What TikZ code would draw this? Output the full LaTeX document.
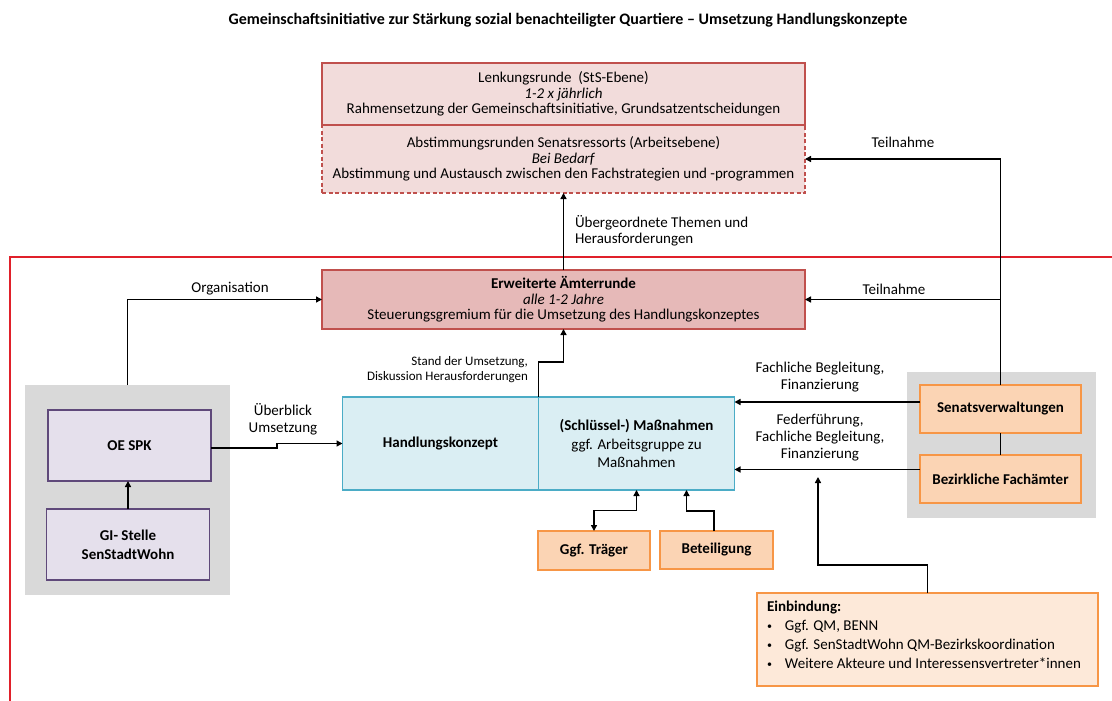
\documentclass[tikz,border=0pt]{standalone}
\usepackage{fontspec}
\setmainfont{Carlito}
\usetikzlibrary{arrows.meta}
\definecolor{lenkf}{HTML}{F2DCDB}
\definecolor{lenkd}{HTML}{C0504D}
\definecolor{aemf}{HTML}{E6B9B8}
\definecolor{bluef}{HTML}{DAEEF3}
\definecolor{blued}{HTML}{4BACC6}
\definecolor{lavf}{HTML}{E5E0EC}
\definecolor{lavd}{HTML}{5F497A}
\definecolor{orf}{HTML}{FBD4B4}
\definecolor{orlf}{HTML}{FDE9D9}
\definecolor{ord}{HTML}{F79646}
\definecolor{greyf}{HTML}{D9D9D9}
\definecolor{framered}{HTML}{E0202A}
\newcommand{\fsmain}{\fontsize{15}{15.5}\selectfont}
\newcommand{\fslbl}{\fontsize{15}{17}\selectfont}
\newcommand{\fssmall}{\fontsize{13}{15}\selectfont}
\newcommand{\smbul}{{\fontsize{10}{10}\selectfont\raisebox{1pt}{\textbullet}}}
\begin{document}
\begin{tikzpicture}[x=1pt,y=-1pt,
  every node/.style={inner sep=0pt, outer sep=0pt},
  box/.style={draw, line width=1.3pt, align=center, font=\fsmain},
  lenkbox/.style={box, draw=lenkd, fill=lenkf, minimum width=483pt},
  aembox/.style={box, draw=lenkd, fill=aemf, minimum width=483pt},
  bluebox/.style={box, draw=blued, fill=bluef, minimum width=196pt, minimum height=93pt},
  lavbox/.style={box, draw=lavd, fill=lavf, minimum width=163pt, minimum height=71pt},
  orbox/.style={box, draw=ord, fill=orf},
  greybox/.style={fill=greyf},
  arr/.style={line width=1.4pt, -{Triangle[length=6pt,width=6pt]}},
  darr/.style={line width=1.4pt, {Triangle[length=6pt,width=6pt]}-{Triangle[length=6pt,width=6pt]}},
  conn/.style={line width=1.4pt},
  lbl/.style={font=\fslbl, align=center},
]
\useasboundingbox (0,0) rectangle (1112,701);
\fill[white] (0,0) rectangle (1112,701);

% title
\node[font=\fontsize{16}{18}\selectfont\bfseries] (title) at (568,20)
  {Gemeinschaftsinitiative zur Stärkung sozial benachteiligter Quartiere – Umsetzung Handlungskonzepte};

% top boxes
\node[lenkbox, minimum height=68pt, dash pattern=on 4pt off 2.5pt] (abst) at (563.5,159)
  {Abstimmungsrunden Senatsressorts (Arbeitsebene)\\\textit{Bei Bedarf}\\Abstimmung und Austausch zwischen den Fachstrategien und -programmen};
\node[lenkbox, minimum height=62pt] (lenk) at (563.5,94)
  {Lenkungsrunde\ \ (StS-Ebene)\\\textit{1-2 x jährlich}\\Rahmensetzung der Gemeinschaftsinitiative, Grundsatzentscheidungen};

% red frame
\draw[framered, line width=1.2pt] (10,701) -- (10,257) -- (1112,257);

% grey backgrounds
\node[greybox, minimum width=205pt, minimum height=210pt] (greyl) at (127.5,490) {};
\node[greybox, minimum width=189pt, minimum height=146pt] (greyr) at (1001.5,445) {};

% main boxes
\node[aembox, minimum height=59pt] (aemter) at (563.5,299.5)
  {\textbf{Erweiterte Ämterrunde}\\\textit{alle 1-2 Jahre}\\Steuerungsgremium für die Umsetzung des Handlungskonzeptes};
\node[lavbox] (oespk) at (129.5,445.5) {\textbf{OE SPK}};
\node[lavbox, font=\fontsize{15}{19}\selectfont] (gi) at (128,544.5) {\textbf{GI- Stelle}\\\textbf{SenStadtWohn}};
\node[bluebox] (hk) at (440.5,443.5) {\textbf{Handlungskonzept}};
\node[bluebox, font=\fontsize{15}{18.5}\selectfont] (mass) at (636.5,443.5)
  {\textbf{(Schlüssel-) Maßnahmen}\\ggf. Arbeitsgruppe zu\\Maßnahmen};
\node[orbox, minimum width=161pt, minimum height=48pt] (senat) at (1000.5,409) {\textbf{Senatsverwaltungen}};
\node[orbox, minimum width=161pt, minimum height=48pt] (bez) at (1000.5,479) {\textbf{Bezirkliche Fachämter}};
\node[orbox, minimum width=112pt, minimum height=39pt] (traeger) at (594,550.5) {\textbf{Ggf. Träger}};
\node[orbox, minimum width=113pt, minimum height=38pt] (bet) at (716.5,550) {\textbf{Beteiligung}};
\node[box, draw=ord, fill=orlf, minimum width=341pt, minimum height=93pt] (einb) at (927.5,639.5) {};
\node[anchor=north west, align=left, font=\fontsize{15}{19}\selectfont] (einbtext) at (767,601)
  {\textbf{Einbindung:}\\
   \smbul\hspace{13pt}Ggf. QM, BENN\\
   \smbul\hspace{13pt}Ggf. SenStadtWohn QM-Bezirkskoordination\\
   \smbul\hspace{13pt}Weitere Akteure und Interessensvertreter*innen};

% connectors
\draw[arr] (aemter.north) -- (abst.south);
\draw[arr] (senat.north) -- (senat.north |- abst.east) -- (abst.east);
\draw[arr] (senat.north |- aemter.east) -- (aemter.east);
\draw[arr] (greyl.north) |- (aemter.west);
\draw[arr] (gi.north) -- (gi.north |- oespk.south);
\draw[arr] ([yshift=-2.5pt]oespk.east) -- ++(66,0) |- (hk.west);
\draw[arr] (mass.north west) -- ++(0,-35) -| (aemter.south);
\draw[arr] ([yshift=7pt]senat.west) -- ([yshift=7pt]senat.west -| mass.east);
\draw[arr] ([yshift=9.5pt]bez.west) -- ([yshift=9.5pt]bez.west -| mass.east);
\draw[conn] (senat.south) -- (bez.north);
\draw[darr] (mass.south) -- ++(0,20.5) -| (traeger.north);
\draw[arr] ([xshift=-2.5pt]bet.north) -- ++(0,-20) -| ([xshift=50pt]mass.south);
\coordinate (einbtip) at (818,477);
\draw[arr] (einb.north) -- ++(0,-28) -| (einbtip);

% labels
\node[lbl] (lubg) [anchor=west] at (575,232) {\begin{tabular}{@{}l@{}}Übergeordnete Themen und\\[-1pt]Herausforderungen\end{tabular}};
\node[lbl] (lteil1) at (903,142) {Teilnahme};
\node[lbl] (lteil2) at (894,289) {Teilnahme};
\node[lbl] (lorg) at (230,289) {Organisation};
\node[font=\fssmall, align=right, anchor=east] (lstand) at (528,369.5) {Stand der Umsetzung,\\Diskussion Herausforderungen};
\node[lbl] (lueb) at (283,419) {Überblick\\Umsetzung};
\node[lbl] (lfach) at (820,377) {Fachliche Begleitung,\\Finanzierung};
\node[lbl] (lfeder) at (820,438) {Federführung,\\Fachliche Begleitung,\\Finanzierung};
\end{tikzpicture}
\end{document}
